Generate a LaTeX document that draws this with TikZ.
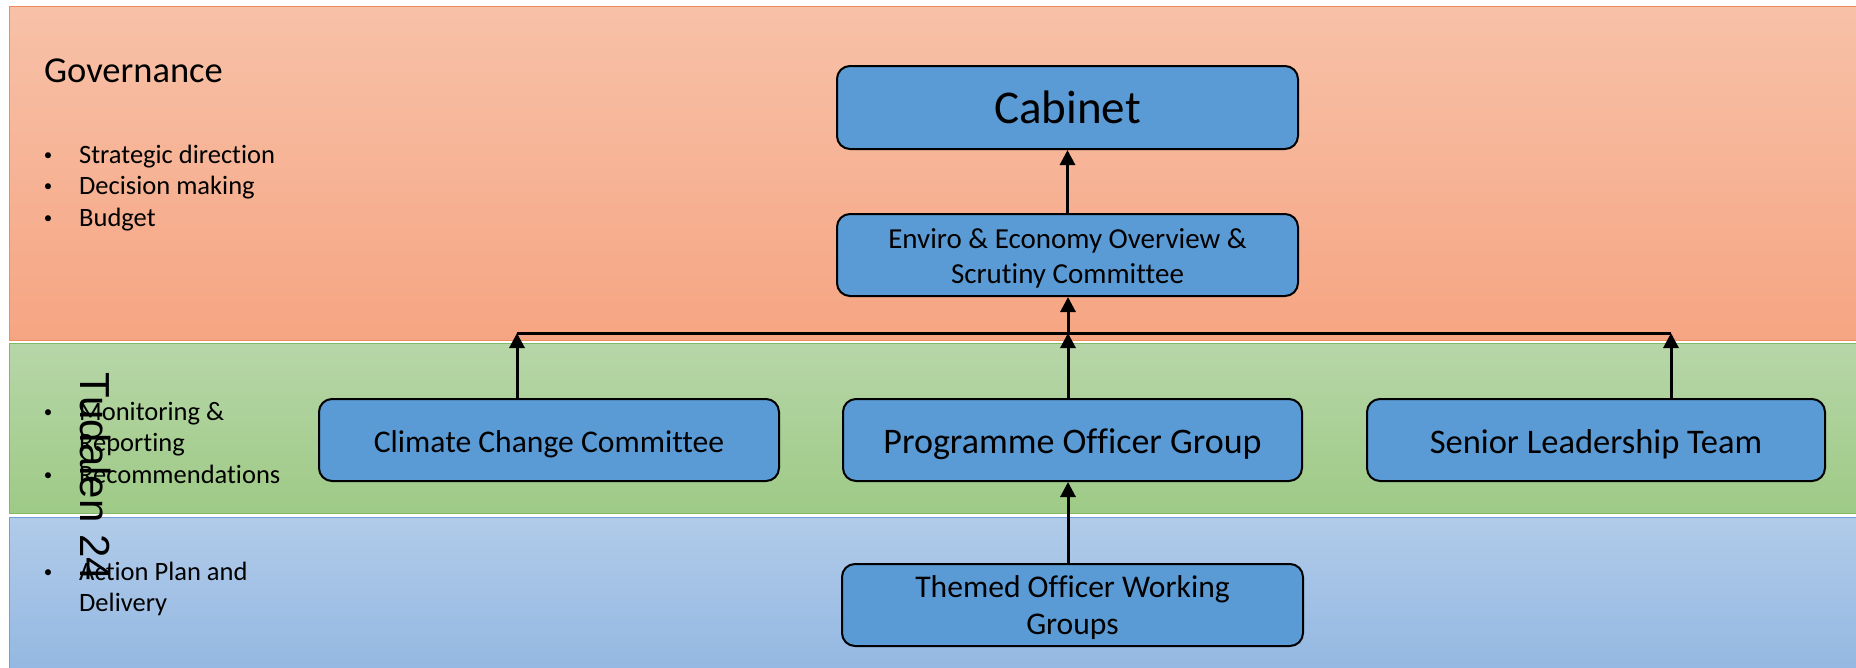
\documentclass[tikz,border=0pt]{standalone}
\usepackage{fontspec}
\setmainfont{Carlito}[Ligatures={NoCommon}]
\newfontfamily\tudfont{Liberation Sans}
\usetikzlibrary{arrows.meta}
\definecolor{orT}{RGB}{247,193,168}
\definecolor{orB}{RGB}{246,165,130}
\definecolor{orE}{RGB}{240,140,90}
\definecolor{grT}{RGB}{183,214,168}
\definecolor{grB}{RGB}{158,202,134}
\definecolor{grE}{RGB}{130,185,100}
\definecolor{blT}{RGB}{177,203,233}
\definecolor{blB}{RGB}{148,184,226}
\definecolor{blE}{RGB}{110,160,215}
\definecolor{boxblue}{RGB}{91,155,213}
\newcommand{\lowered}[2]{\raisebox{-#1}[\height][\depth]{\begin{tabular}{@{}c@{}}#2\end{tabular}}}
\newcommand{\smallbul}{\raisebox{2.5pt}{\fontsize{17pt}{20pt}\selectfont\textbullet}}
\tikzset{
  box/.style={draw=black, line width=2pt, rounded corners=13pt, fill=boxblue, inner sep=0pt, align=center, text=black},
  arr/.style={line width=3pt, -{Triangle[length=15pt,width=15pt]}},
  busline/.style={line width=3pt},
  bul/.style={anchor=base, inner sep=0pt},
  btxt/.style={anchor=base west, inner sep=0pt, font=\fontsize{26.5pt}{32pt}\selectfont},
  band/.style={line width=1pt},
}
\begin{document}
\begin{tikzpicture}[x=1pt,y=-1pt]
\useasboundingbox (0,0) rectangle (1856,667);
% bands
\path[band, top color=orT, bottom color=orB, draw=orE] (9,6) rectangle (1860,340);
\path[band, top color=grT, bottom color=grB, draw=grE] (9,343) rectangle (1860,513);
\path[band, top color=blT, bottom color=blB, draw=blE] (9,517) rectangle (1860,670);
% left texts
\node[anchor=base west, inner sep=0pt, font=\fontsize{36.5pt}{44pt}\selectfont] (gov) at (44,82) {Governance};
\node[bul] (b1) at (48,163) {\smallbul};
\node[btxt] (t1) at (79,163) {Strategic direction};
\node[bul] (b2) at (48,194) {\smallbul};
\node[btxt] (t2) at (79,194) {Decision making};
\node[bul] (b3) at (48,226) {\smallbul};
\node[btxt] (t3) at (79,226) {Budget};
\node[bul] (b4) at (48,420) {\smallbul};
\node[btxt] (t4) at (79,420) {Monitoring \&};
\node[btxt] (t4b) at (79,451) {Reporting};
\node[bul] (b5) at (48,483) {\smallbul};
\node[btxt] (t5) at (79,483) {Recommendations};
\node[bul] (b6) at (48,580) {\smallbul};
\node[btxt] (t6) at (79,580) {Action Plan and};
\node[btxt] (t6b) at (79,611) {Delivery};
% page stamp
\node[rotate=-90, anchor=base west, inner sep=0pt, font=\tudfont\fontsize{42pt}{50pt}\selectfont] (tud) at (80,372) {Tudalen 24};
% boxes
\node[box, minimum width=461pt, minimum height=83pt, font=\fontsize{47pt}{56pt}\selectfont] (cab) at (1067.5,107.5) {\lowered{5pt}{Cabinet}};
\node[box, minimum width=461pt, minimum height=82pt, font=\fontsize{29pt}{35pt}\selectfont] (env) at (1067.5,255) {\lowered{3.5pt}{Enviro \& Economy Overview \&\\Scrutiny Committee}};
\node[box, minimum width=460pt, minimum height=82pt, font=\fontsize{31.6pt}{38pt}\selectfont] (clim) at (549,440) {\lowered{5pt}{Climate Change Committee}};
\node[box, minimum width=459pt, minimum height=82pt, font=\fontsize{36pt}{43pt}\selectfont] (prog) at (1072.5,440) {\lowered{5pt}{Programme Officer Group}};
\node[box, minimum width=458pt, minimum height=82pt, font=\fontsize{34.5pt}{41pt}\selectfont] (slt) at (1596,440) {\lowered{5pt}{Senior Leadership Team}};
\node[box, minimum width=461pt, minimum height=82pt, font=\fontsize{31.6pt}{37pt}\selectfont] (them) at (1072.5,605) {\lowered{4pt}{Themed Officer Working\\Groups}};
% bus
\coordinate (busL) at (517,333);
\coordinate (busC) at (1068,333);
\coordinate (busR) at (1671,333);
\draw[busline] (busL) -- (busR);
\draw[arr] (env.north) -- (cab.south);
\draw[arr] (busC) -- (env.south -| busC);
\draw[arr] (clim.north -| busL) -- (busL);
\draw[arr] (prog.north -| busC) -- (busC);
\draw[arr] (slt.north -| busR) -- (busR);
\draw[arr] (them.north -| busC) -- (prog.south -| busC);
\end{tikzpicture}
\end{document}
